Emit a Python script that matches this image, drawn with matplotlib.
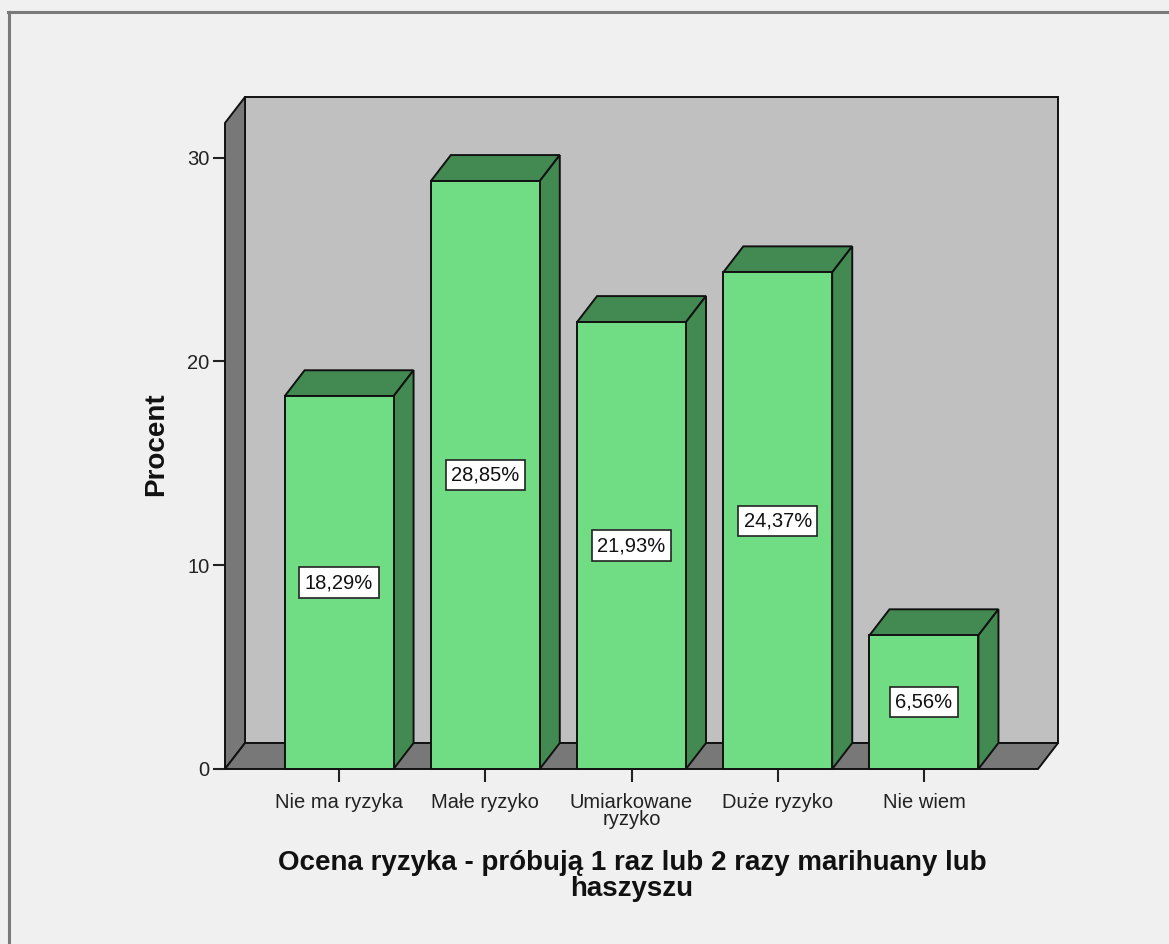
import matplotlib
matplotlib.use('Agg')
import matplotlib.pyplot as plt
from matplotlib.patches import Polygon
from matplotlib.lines import Line2D

plt.rcParams['font.family'] = ['Liberation Sans', 'DejaVu Sans']

# Data
categories = ['Nie ma ryzyka', 'Małe ryzyko', 'Umiarkowane\nryzyko', 'Duże ryzyko', 'Nie wiem']
percents = [18.29, 28.85, 21.93, 24.37, 6.56]
value_labels = ['18,29%', '28,85%', '21,93%', '24,37%', '6,56%']
yticks = [0, 10, 20, 30]
xlabel = 'Ocena ryzyka - próbują 1 raz lub 2 razy marihuany lub\nhaszyszu'
ylabel = 'Procent'

# Colors
BG = '#f0f0f0'
BACK_WALL = '#c0c0c0'
SIDE_WALL = '#787878'
BAR_FACE = '#70dc84'
BAR_DARK = '#438a52'
EDGE = '#111111'

# 3D-ish geometry in data units
X0, X1 = -0.78, 4.78
YTOP = 31.7
DX, DY = 0.137, 1.276
W = 0.745

W_PX, H_PX = 1169, 944
fig = plt.figure(figsize=(W_PX / 100, H_PX / 100), dpi=100, facecolor=BG)
ax = fig.add_axes([225 / W_PX, (H_PX - 769) / H_PX, 813 / W_PX, (769 - 123) / H_PX])
ax.set_facecolor('none')
ax.set_xlim(X0, X1)
ax.set_ylim(0, YTOP)
for s in ax.spines.values():
    s.set_visible(False)

def poly(pts, fc, z):
    p = Polygon(pts, closed=True, facecolor=fc, edgecolor=EDGE, linewidth=1.4,
                joinstyle='miter', clip_on=False, zorder=z)
    ax.add_patch(p)

# walls and floor
poly([(X0 + DX, DY), (X1 + DX, DY), (X1 + DX, YTOP + DY), (X0 + DX, YTOP + DY)], BACK_WALL, 1)
poly([(X0, 0), (X0 + DX, DY), (X0 + DX, YTOP + DY), (X0, YTOP)], SIDE_WALL, 2)
poly([(X0, 0), (X1, 0), (X1 + DX, DY), (X0 + DX, DY)], SIDE_WALL, 2)

# bars
for i, v in enumerate(percents):
    l, r = i - W / 2, i + W / 2
    poly([(l, v), (r, v), (r + DX, v + DY), (l + DX, v + DY)], BAR_DARK, 3)
    poly([(r, 0), (r + DX, DY), (r + DX, v + DY), (r, v)], BAR_DARK, 3)
    poly([(l, 0), (r, 0), (r, v), (l, v)], BAR_FACE, 4)
    ax.text(i, v / 2, value_labels[i], ha='center', va='center', fontsize=14.5,
            color='#111111', zorder=6,
            bbox=dict(boxstyle='square,pad=0.28', facecolor='white',
                      edgecolor='#222222', linewidth=1.2))

ax.set_yticks(yticks)
ax.set_yticklabels([str(t) for t in yticks])
ax.set_xticks(range(len(categories)))
ax.set_xticklabels(categories)
ax.tick_params(axis='y', direction='out', length=9, width=1.5, pad=2,
               labelsize=14.5, colors='#222222')
ax.tick_params(axis='x', direction='out', length=9, width=1.5, pad=8,
               labelsize=14.5, colors='#222222')
for lab in ax.get_xticklabels():
    lab.set_multialignment('center')
    lab.set_linespacing(0.9)

fig.text(156 / W_PX, 1 - 444 / H_PX, ylabel, rotation=90, ha='center', va='center',
         fontsize=20, fontweight='bold', color='#111111')
fig.text(632 / W_PX, 1 - 876 / H_PX, xlabel, ha='center', va='center',
         fontsize=20, fontweight='bold', color='#111111', linespacing=0.95)

# outer frame lines
fig.add_artist(Line2D([8 / W_PX, 1], [1 - 12 / H_PX, 1 - 12 / H_PX],
                      color='#7a7a7a', linewidth=2.2))
fig.add_artist(Line2D([9 / W_PX, 9 / W_PX], [0, 1 - 12 / H_PX],
                      color='#7a7a7a', linewidth=2.2))

fig.savefig('out.png', dpi=100, facecolor=BG)
